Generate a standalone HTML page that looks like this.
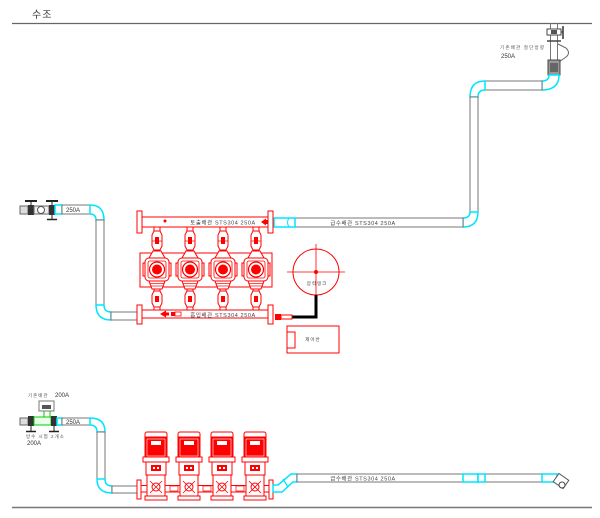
<!DOCTYPE html>
<html><head><meta charset="utf-8"><style>
html,body{margin:0;padding:0;background:#fff;}
svg{display:block;}
text{font-family:"Liberation Sans","Noto Sans CJK KR",sans-serif;}
</style></head><body>
<svg width="600" height="518" viewBox="0 0 600 518" xmlns="http://www.w3.org/2000/svg">
<defs>
  <g id="tp">
    <line x1="-3" y1="227" x2="-3" y2="251" stroke="#f00" stroke-width="1"/>
    <line x1="3" y1="227" x2="3" y2="251" stroke="#f00" stroke-width="1"/>
    <line x1="-3" y1="288" x2="-3" y2="310" stroke="#f00" stroke-width="1"/>
    <line x1="3" y1="288" x2="3" y2="310" stroke="#f00" stroke-width="1"/>
    <polygon points="-3,231 3,231 5,235 5,246 3,250 -3,250 -5,246 -5,235" fill="#fff" stroke="#f00"/>
    <rect x="-2" y="237" width="4" height="7" fill="#f00"/>
    <line x1="-5" y1="241" x2="5" y2="241" stroke="#f00" stroke-width="0.7"/>
    <polygon points="-4,251 4,251 8,258 -8,258" fill="#fff" stroke="#f00"/>
    <rect x="-14" y="263" width="3" height="13" fill="#fff" stroke="#f00"/>
    <rect x="11" y="263" width="3" height="13" fill="#fff" stroke="#f00"/>
    <rect x="-12" y="258" width="24" height="23" rx="4" fill="#fff" stroke="#f00"/>
    <rect x="-9" y="261" width="18" height="17" rx="2" fill="none" stroke="#f00" stroke-width="0.8"/>
    <circle cx="0" cy="269.5" r="7.5" fill="#fff" stroke="#f00" stroke-width="1.2"/>
    <circle cx="0" cy="269.5" r="5" fill="#f00"/>
    <polygon points="-8,281 8,281 5,289 -5,289" fill="#fff" stroke="#f00"/>
    <line x1="-7" y1="283.5" x2="7" y2="283.5" stroke="#f00" stroke-width="0.7"/>
    <line x1="-6" y1="286" x2="6" y2="286" stroke="#f00" stroke-width="0.7"/>
    <polygon points="-3,291 3,291 5,295 5,303 3,307 -3,307 -5,303 -5,295" fill="#fff" stroke="#f00"/>
    <rect x="-2" y="296" width="4" height="6" fill="#f00"/>
  </g>
  <g id="bp">
    <rect x="-11" y="432" width="22" height="6" rx="2" fill="#fff" stroke="#f00"/>
    <rect x="-11" y="437" width="22" height="20" fill="#f00" stroke="#f00"/>
    <rect x="-9" y="439" width="18" height="17" fill="none" stroke="#fff" stroke-width="0.6"/>
    <rect x="-5" y="441" width="10" height="4" fill="#fff"/>
    <rect x="-13" y="457" width="26" height="5" fill="#fff" stroke="#f00"/>
    <rect x="-10" y="462" width="20" height="13" fill="#fff" stroke="#f00"/>
    <rect x="-5" y="465" width="10" height="6" fill="#f00"/>
    <rect x="-3" y="467" width="2" height="2" fill="#fff"/>
    <rect x="1" y="467" width="2" height="2" fill="#fff"/>
    <rect x="-9" y="475" width="18" height="22" fill="#fff" stroke="#f00"/>
    <circle cx="0" cy="487" r="4" fill="none" stroke="#f00"/>
    <line x1="-6" y1="481" x2="6" y2="493" stroke="#f00" stroke-width="0.8"/>
    <line x1="6" y1="481" x2="-6" y2="493" stroke="#f00" stroke-width="0.8"/>
    <rect x="-11" y="496" width="22" height="4" fill="#fff" stroke="#f00"/>
  </g>
</defs>
<rect width="600" height="518" fill="#fff"/>

<!-- header -->
<text x="32" y="18" font-size="10" fill="#333" letter-spacing="1">수조</text>
<line x1="12" y1="23.5" x2="592" y2="23.5" stroke="#666" stroke-width="1.2"/>

<!-- top right riser -->
<line x1="550.5" y1="23" x2="550.5" y2="60" stroke="#777"/>
<line x1="557.5" y1="23" x2="557.5" y2="60" stroke="#777"/>
<rect x="547" y="29" width="14" height="6" fill="#fff" stroke="#444"/>
<rect x="551" y="30" width="6" height="4" fill="#555"/>
<line x1="563" y1="26" x2="563" y2="39" stroke="#333" stroke-width="1.5"/>
<line x1="561" y1="32" x2="563" y2="32" stroke="#333"/>
<line x1="547" y1="41" x2="561" y2="41" stroke="#444" stroke-width="1.5"/>
<path d="M558,44 L566,48 Q571,53 566,57 L559,62" stroke="#666" fill="none"/>
<rect x="548" y="60" width="12" height="15" fill="#999" stroke="#444"/>
<rect x="550" y="63" width="8" height="9" fill="#666"/>
<text x="500" y="49" font-size="4.5" fill="#555" letter-spacing="1.2">기존배관 절단방향</text>
<text x="501" y="58" font-size="6" fill="#333">250A</text>
<path d="M549,75 L559,75 Q559,90 542,90 L542,81 Q549,81 549,75 Z" fill="#fff" stroke="#00e5ff" stroke-width="1.5"/>
<rect x="485" y="81" width="57" height="9" fill="#fff" stroke="#777"/>
<path d="M485,81 L485,90 Q478,90 478,97 L470,97 Q470,81 485,81 Z" fill="#fff" stroke="#00e5ff" stroke-width="1.5"/>
<rect x="470" y="97" width="8" height="115" fill="#fff" stroke="#777"/>
<path d="M470,212 L478,212 Q478,227 463,227 L463,218 Q470,218 470,212 Z" fill="#fff" stroke="#00e5ff" stroke-width="1.5"/>
<rect x="295" y="218" width="168" height="9" fill="#fff" stroke="#777"/>
<rect x="274" y="218" width="21" height="9" fill="#fff" stroke="#00e5ff" stroke-width="1.5"/>
<path d="M289,218 Q286,222.5 289,227" stroke="#00e5ff" fill="none"/>
<text x="363" y="225" font-size="5.5" fill="#444" text-anchor="middle" letter-spacing="0.6">급수배관  STS304 250A</text>

<!-- top-left inlet -->
<rect x="20" y="206" width="8" height="8" fill="#ddd" stroke="#666"/>
<line x1="25" y1="201" x2="37" y2="201" stroke="#222" stroke-width="2"/>
<line x1="31" y1="201" x2="31" y2="205" stroke="#222"/>
<rect x="28" y="205" width="6" height="10" fill="#333"/>
<rect x="34" y="206" width="15" height="8" fill="#eee" stroke="#666"/>
<circle cx="41" cy="210" r="3.5" fill="#fff" stroke="#555"/>
<line x1="46" y1="201" x2="58" y2="201" stroke="#222" stroke-width="2"/>
<line x1="52" y1="201" x2="52" y2="219" stroke="#222"/>
<rect x="49" y="205" width="6" height="10" fill="#333"/>
<line x1="47" y1="219.5" x2="57" y2="219.5" stroke="#222" stroke-width="1.5"/>
<rect x="55" y="205" width="7" height="9" fill="#fff" stroke="#00e5ff" stroke-width="1.5"/>
<rect x="62" y="205" width="28" height="9" fill="#fff" stroke="#777"/>
<text x="66" y="212" font-size="6" fill="#333">250A</text>
<path d="M90,205 Q104,205 104,220 L96,220 Q96,214 90,214 Z" fill="#fff" stroke="#00e5ff" stroke-width="1.5"/>
<rect x="96" y="220" width="8" height="85" fill="#fff" stroke="#777"/>
<path d="M96,305 L104,305 Q104,312 111,312 L111,320 Q96,320 96,305 Z" fill="#fff" stroke="#00e5ff" stroke-width="1.5"/>
<rect x="111" y="312" width="27" height="8" fill="#fff" stroke="#777"/>

<!-- top pump group -->
<rect x="140" y="253" width="132" height="34" fill="none" stroke="#f00"/>
<rect x="142" y="217" width="126" height="10" fill="#fff" stroke="#f00"/>
<rect x="137" y="211" width="5" height="22" fill="#fff" stroke="#f00"/>
<rect x="268" y="211" width="5" height="22" fill="#fff" stroke="#f00"/>
<circle cx="165" cy="221" r="1.5" fill="#f00"/>
<polygon points="261,222 266,218.5 266,225.5" fill="#f00"/>
<rect x="265" y="220" width="3" height="4" fill="#f00"/>
<text x="223" y="224.5" font-size="5.5" fill="#444" text-anchor="middle" letter-spacing="0.6">토출배관  STS304 250A</text>
<rect x="142" y="310" width="126" height="8" fill="#fff" stroke="#f00"/>
<rect x="137" y="305" width="5" height="19" fill="#fff" stroke="#f00"/>
<rect x="268" y="305" width="5" height="19" fill="#fff" stroke="#f00"/>
<polygon points="160,314 166,310.5 166,317.5" fill="#f00"/>
<rect x="166" y="312.5" width="3" height="3" fill="#f00"/>
<rect x="171" y="312" width="4" height="4" fill="#f00"/>
<rect x="175" y="312" width="6" height="4" fill="#fff" stroke="#f00" stroke-width="0.8"/>
<text x="223" y="317" font-size="5.5" fill="#444" text-anchor="middle" letter-spacing="0.6">흡입배관  STS304 250A</text>
<use href="#tp" x="157"/>
<use href="#tp" x="190"/>
<use href="#tp" x="223"/>
<use href="#tp" x="256"/>

<!-- pressure tank -->
<circle cx="316" cy="272" r="23" fill="none" stroke="#f00"/>
<line x1="287" y1="272" x2="345" y2="272" stroke="#f00" stroke-width="0.8"/>
<line x1="316" y1="244" x2="316" y2="299" stroke="#f00" stroke-width="0.8"/>
<circle cx="316" cy="272" r="2" fill="#f00"/>
<text x="317" y="285" font-size="4.5" fill="#444" text-anchor="middle" letter-spacing="1">압력탱크</text>
<polyline points="316,295 316,317 292,317" fill="none" stroke="#000" stroke-width="3"/>
<rect x="275" y="314" width="6" height="6" fill="#f00"/>
<rect x="281" y="315" width="11" height="4" fill="#fff" stroke="#f00"/>

<!-- control panel -->
<rect x="287" y="326" width="52" height="27" fill="#fff" stroke="#f00"/>
<rect x="287" y="332" width="8" height="16" fill="#fff" stroke="#f00"/>
<text x="313" y="341" font-size="4.5" fill="#444" text-anchor="middle" letter-spacing="1">제어반</text>

<!-- bottom-left inlet -->
<text x="28" y="397" font-size="4.5" fill="#555" letter-spacing="1">기존배관</text>
<text x="55" y="397" font-size="6" fill="#333">200A</text>
<rect x="39" y="401" width="15" height="10" fill="#fff" stroke="#777"/>
<rect x="42" y="405" width="9" height="4" fill="#555"/>
<line x1="44" y1="411" x2="44" y2="417" stroke="#0c0"/>
<line x1="50" y1="411" x2="50" y2="417" stroke="#0c0"/>
<rect x="20" y="418" width="8" height="7" fill="#ddd" stroke="#666"/>
<rect x="28" y="416" width="6" height="10" fill="#333"/>
<line x1="31" y1="426" x2="31" y2="431" stroke="#222"/>
<line x1="26" y1="431.5" x2="36" y2="431.5" stroke="#222" stroke-width="1.5"/>
<rect x="34" y="417" width="17" height="8" fill="#eaffea" stroke="#0c0"/>
<rect x="51" y="416" width="6" height="10" fill="#333"/>
<line x1="54" y1="426" x2="54" y2="431" stroke="#222"/>
<line x1="49" y1="431.5" x2="59" y2="431.5" stroke="#222" stroke-width="1.5"/>
<rect x="57" y="418" width="5" height="7" fill="#fff" stroke="#00e5ff" stroke-width="1.5"/>
<rect x="62" y="418" width="28" height="7" fill="#fff" stroke="#777"/>
<text x="66" y="424" font-size="6" fill="#333">250A</text>
<path d="M90,418 Q105,418 105,432 L97,432 Q97,425 90,425 Z" fill="#fff" stroke="#00e5ff" stroke-width="1.5"/>
<rect x="97" y="432" width="8" height="47" fill="#fff" stroke="#777"/>
<path d="M97,479 L105,479 Q105,486 112,486 L112,493 Q97,493 97,479 Z" fill="#fff" stroke="#00e5ff" stroke-width="1.5"/>
<rect x="112" y="486" width="26" height="7" fill="#fff" stroke="#777"/>
<text x="26" y="438" font-size="4.5" fill="#555" letter-spacing="1">방수 시험 2개소</text>
<text x="27" y="445" font-size="6" fill="#333">200A</text>

<!-- bottom pumps -->
<line x1="141" y1="485.5" x2="269" y2="485.5" stroke="#f00"/>
<line x1="141" y1="492" x2="269" y2="492" stroke="#f00"/>
<rect x="170" y="486" width="8" height="5" fill="#fff" stroke="#f00" stroke-width="0.7"/>
<rect x="203" y="486" width="8" height="5" fill="#fff" stroke="#f00" stroke-width="0.7"/>
<rect x="236" y="486" width="8" height="5" fill="#fff" stroke="#f00" stroke-width="0.7"/>
<rect x="137" y="480" width="4" height="19" fill="#fff" stroke="#f00"/>
<rect x="269" y="480" width="4" height="19" fill="#fff" stroke="#f00"/>
<use href="#bp" x="156"/>
<use href="#bp" x="189"/>
<use href="#bp" x="222"/>
<use href="#bp" x="255"/>
<polygon points="273,485 278,485 291,474 297,474 297,482 293,482 282,492 273,492" fill="#fff" stroke="#00e5ff" stroke-width="1.5"/>
<line x1="283" y1="479" x2="288" y2="487" stroke="#00e5ff" stroke-width="1.2"/>

<!-- bottom right pipe -->
<rect x="297" y="474" width="245" height="8" fill="#fff" stroke="#777"/>
<text x="363" y="480.5" font-size="5.5" fill="#444" text-anchor="middle" letter-spacing="0.6">급수배관  STS304 250A</text>
<rect x="463" y="474" width="15" height="8" fill="#fff" stroke="#00e5ff" stroke-width="1.5"/>
<rect x="478" y="474" width="7" height="8" fill="#fff" stroke="#00e5ff" stroke-width="1.5"/>
<rect x="542" y="474" width="15" height="8" fill="#fff" stroke="#00e5ff" stroke-width="1.5"/>
<rect x="555" y="476" width="12" height="10" fill="#fff" stroke="#555" transform="rotate(35 561 481)"/>
<circle cx="562" cy="485" r="3" fill="#fff" stroke="#444"/>

<line x1="12" y1="507.5" x2="592" y2="507.5" stroke="#777" stroke-width="1.5"/>
</svg>
</body></html>
